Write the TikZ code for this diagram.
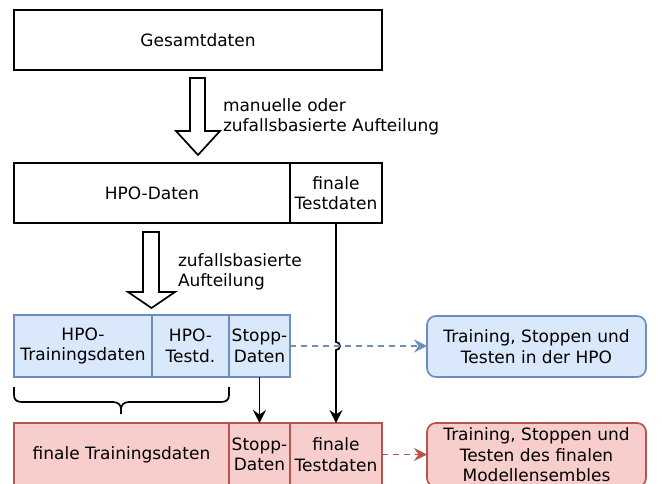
\documentclass[tikz,border=0pt]{standalone}
\usepackage{fontspec}
\setmainfont{DejaVu Sans}
\usetikzlibrary{arrows.meta}
\definecolor{hpofill}{HTML}{DAE8FC}
\definecolor{hpoline}{HTML}{6C8EBF}
\definecolor{finfill}{HTML}{F8CECC}
\definecolor{finline}{HTML}{B85450}
\begin{document}
\begin{tikzpicture}[x=1pt,y=-1pt,
  every node/.style={font=\fontsize{17}{20.5}\selectfont, align=center, inner sep=0pt, outer sep=0pt},
  cell/.style={draw=black, line width=1.7pt, fill=white},
  hpocell/.style={draw=hpoline, line width=1.7pt, fill=hpofill},
  fincell/.style={draw=finline, line width=1.7pt, fill=finfill},
  flow/.style={-{Stealth[length=13pt,width=13pt,inset=4.5pt]}, line width=1.7pt, draw=black},
  dashflow/.style={-{Stealth[length=13pt,width=13pt,inset=4.5pt,sep=0pt]}, line width=1.7pt, dash pattern=on 6pt off 5pt},
  blockarrow/.style={draw=black, line width=1.7pt, fill=white, line join=miter}]
\clip (0,0) rectangle (662,483);
\fill[white] (0,0) rectangle (662,483);

% overall data
\node[cell, minimum width=368pt, minimum height=60pt] (ges) at (198,40) {Gesamtdaten};

% first split
\draw[blockarrow] (190,78) -- (205,78) -- (205,131) -- (220,131) -- (198,155)
  -- (176,131) -- (190,131) -- cycle;
\node[anchor=west, align=left] (split1) at (223,117) {manuelle oder\\zufallsbasierte Aufteilung};

\node[cell, minimum width=276pt, minimum height=60pt] (hpo) at (152,193) {HPO-Daten};
\node[cell, minimum width=92pt, minimum height=60pt] (ft) at (336,193) {finale\\Testdaten};

% second split
\draw[blockarrow] (143,232) -- (159,232) -- (159,292) -- (175,292) -- (151.5,308)
  -- (128,292) -- (143,292) -- cycle;
\node[anchor=west, align=left] (split2) at (178,272) {zufallsbasierte\\Aufteilung};

% HPO row
\node[hpocell, minimum width=138pt, minimum height=62pt] (htr) at (83,346) {HPO-\\Trainingsdaten};
\node[hpocell, minimum width=77pt, minimum height=62pt] (hte) at (190.5,346) {HPO-\\Testd.};
\node[hpocell, minimum width=61pt, minimum height=62pt] (hst) at (259.5,346) {Stopp-\\Daten};

% brace over training and test parts
\draw[line width=1.7pt, line join=round]
  (14,387) -- (14,395) .. controls (14,400) and (17,402) .. (22,402)
  -- (113,402) .. controls (118,402) and (121,405) .. (121,409) -- (121,414)
  (121,409) .. controls (121,405) and (124,402) .. (129,402)
  -- (221,402) .. controls (226,402) and (229,400) .. (229,395) -- (229,387);

% final row
\node[fincell, minimum width=215pt, minimum height=63pt] (ftr) at (121.5,454.5) {finale Trainingsdaten};
\node[fincell, minimum width=61pt, minimum height=63pt] (fst) at (259.5,454.5) {Stopp-\\Daten};
\node[fincell, minimum width=92pt, minimum height=63pt] (fte) at (336,454.5) {finale\\Testdaten};

% usage boxes
\node[hpocell, rounded corners=9pt, minimum width=219pt, minimum height=61pt] (use1) at (536.5,346.5) {Training, Stoppen und\\Testen in der HPO};
\node[fincell, rounded corners=9pt, minimum width=219pt, minimum height=64pt] (use2) at (536.5,455) {Training, Stoppen und\\Testen des finalen\\Modellensembles};

% connectors
\draw[flow] (hst.south) -- (fst.north);
\coordinate (jumpA) at (336,342);
\coordinate (jumpB) at (336,350);
\draw[flow] (ft.south) -- (jumpA) .. controls +(5.3,0) and +(5.3,0) .. (jumpB) -- (fte.north);
\draw[dashflow, draw=hpoline] (hst.east) -- (use1.west |- hst.east);
\draw[dashflow, draw=finline] (fte.east) -- (use2.west |- fte.east);
\end{tikzpicture}
\end{document}
